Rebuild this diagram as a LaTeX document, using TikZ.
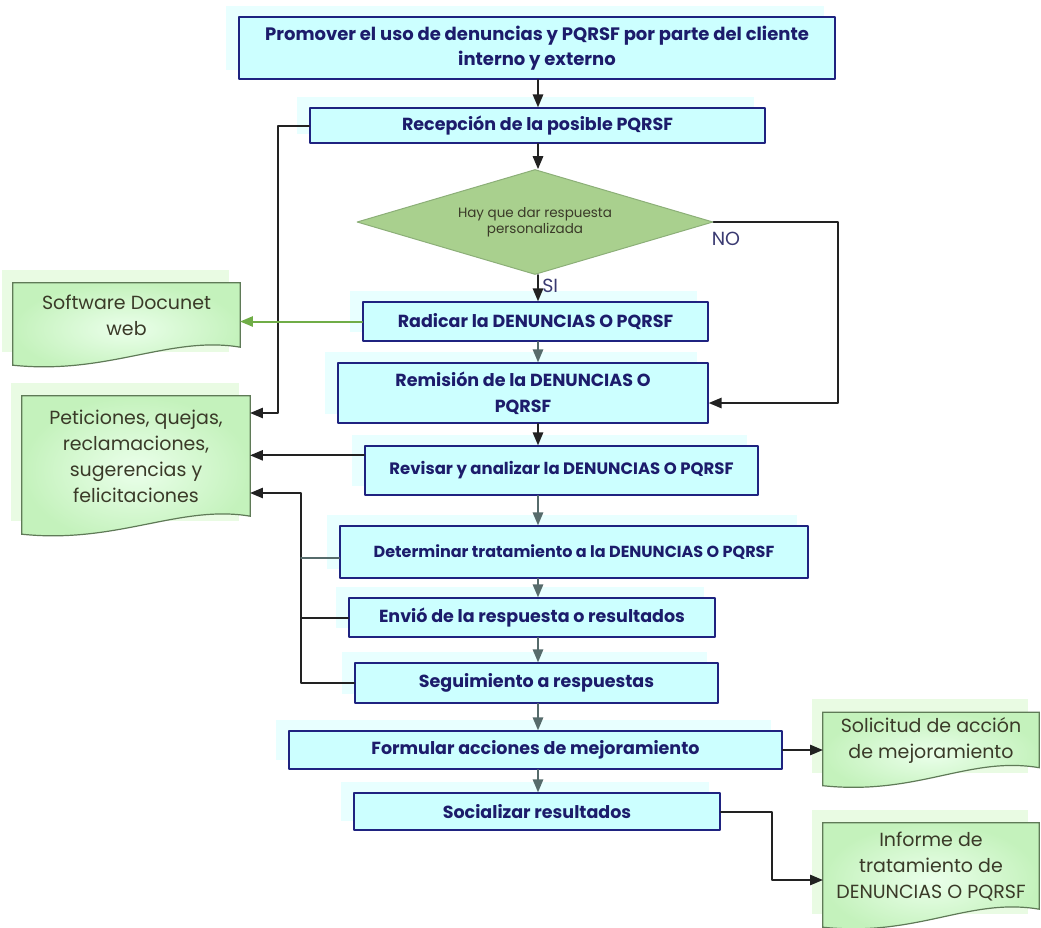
\documentclass[tikz,border=0pt]{standalone}
\usepackage{fontspec}
\setmainfont{Poppins}
\usetikzlibrary{arrows,shapes.geometric,calc,backgrounds}
\definecolor{azul}{HTML}{1F2380}
\definecolor{textoazul}{HTML}{1C1C6B}
\definecolor{celeste}{HTML}{CCFFFF}
\definecolor{celestesombra}{HTML}{E8FFFF}
\definecolor{verdedoc}{HTML}{C4F2BC}
\definecolor{verdesombra}{HTML}{E9FBE3}
\definecolor{bordedoc}{HTML}{5F7A57}
\definecolor{textodoc}{HTML}{3A3A28}
\definecolor{rombo}{HTML}{A9D08E}
\definecolor{bordrombo}{HTML}{8CAF78}
\definecolor{verdeflecha}{HTML}{70AD47}
\definecolor{gris}{HTML}{566B6B}
\definecolor{linea}{HTML}{222222}

\begin{document}
\begin{tikzpicture}[line cap=round,line join=round,>=triangle 45,x=1pt,y=-1pt,
	caja/.style={draw=azul,line width=1.6pt,fill=celeste,text=textoazul,align=center,inner sep=0pt,
		font=\bfseries\fontsize{17.5}{26}\selectfont},
	docu/.style={text=textodoc,align=center,inner sep=0pt,font=\fontsize{19}{26}\selectfont},
	papel/.style={draw=bordedoc,line width=1.2pt,inner color=green!8,outer color=verdedoc},
	flecha/.style={->,draw=linea,line width=2pt},
	flechagris/.style={->,draw=gris,line width=2pt},
	etiq/.style={text=textoazul!70!gray,font=\fontsize{19}{20}\selectfont}]
			\useasboundingbox (0,0) rectangle (1041,927);
			\coordinate (eje) at (538,0);
			%Cajas del proceso
			\node[caja,minimum width=596pt,minimum height=62pt,font=\bfseries\fontsize{18}{25}\selectfont] (prom) at (537,48)
				{Promover el uso de denuncias y PQRSF por parte del cliente\\interno y externo};
			\node[caja,minimum width=455pt,minimum height=35pt] (recep) at (537.5,125.5) {Recepción de la posible PQRSF};
			\node[shape=diamond,aspect=3.4,draw=bordrombo,fill=rombo,line width=1pt,minimum width=356pt,minimum height=105pt,
				inner sep=0pt,text=textodoc,align=center,font=\fontsize{13.5}{16}\selectfont] (dec) at (535,222)
				{Hay que dar respuesta\\personalizada};
			\node[caja,minimum width=345pt,minimum height=39pt] (radic) at (535.5,321.5) {Radicar la DENUNCIAS O PQRSF};
			\node[caja,minimum width=370pt,minimum height=60pt] (remis) at (523,393) {Remisión de la DENUNCIAS O\\PQRSF};
			\node[caja,minimum width=393pt,minimum height=49pt,font=\bfseries\fontsize{16.5}{20}\selectfont] (revis) at (561.5,470.5)
				{Revisar y analizar la DENUNCIAS O PQRSF};
			\node[caja,minimum width=468pt,minimum height=52pt,font=\bfseries\fontsize{16}{20}\selectfont] (deter) at (574,552)
				{Determinar tratamiento a la DENUNCIAS O PQRSF};
			\node[caja,minimum width=366pt,minimum height=39pt] (envio) at (532,617.5) {Envió de la respuesta o resultados};
			\node[caja,minimum width=363pt,minimum height=40pt] (segui) at (536.5,683) {Seguimiento a respuestas};
			\node[caja,minimum width=493pt,minimum height=38pt] (formu) at (535.5,750) {Formular acciones de mejoramiento};
			\node[caja,minimum width=366pt,minimum height=37pt] (socia) at (537,811.5) {Socializar resultados};
			%Documentos
			\node[docu,minimum width=227pt,minimum height=64pt] (soft) at (126.5,315) {Software Docunet\\web};
			\node[docu,minimum width=228pt,minimum height=120pt] (petic) at (136,456)
				{Peticiones, quejas,\\reclamaciones,\\sugerencias y\\felicitaciones};
			\node[docu,minimum width=216pt,minimum height=55pt] (solic) at (931,740) {Solicitud de acción\\de mejoramiento};
			\node[docu,minimum width=216pt,minimum height=86pt] (infor) at (931,866)
				{Informe de\\tratamiento de\\DENUNCIAS O PQRSF};
			%sombras y hojas
			\begin{scope}[on background layer]
				\foreach \hoja in {soft,petic,solic,infor}{
					\fill[verdesombra] ($(\hoja.north west)+(-11,-13)$) rectangle ($(\hoja.south east)+(-11,5)$);
					\draw[papel] (\hoja.south west) -- (\hoja.north west) -- (\hoja.north east) -- (\hoja.south east)
						.. controls ($(\hoja.south east)+(-70,-12)$) and ($(\hoja.south west)+(95,28)$) .. ($(\hoja.south west)+(0,18)$) -- cycle;
				}
				\foreach \paso in {prom,recep,radic,remis,revis,deter,envio,segui,formu,socia}
					\fill[celestesombra] ($(\paso.north west)+(-12,-10)$) rectangle ($(\paso.south east)+(-12,-10)$);
			\end{scope}
			%Flujo principal
			\draw[flecha] (eje |- prom.south) -- (eje |- recep.north);
			\draw[flecha] (eje |- recep.south) -- (eje |- dec.north);
			\draw[flecha] (eje |- dec.south) -- (eje |- radic.north) node[etiq,pos=0.4,right=0pt] (si) {SI};
			\draw[flechagris] (eje |- radic.south) -- (eje |- remis.north);
			\draw[flecha] (eje |- remis.south) -- (eje |- revis.north);
			\draw[flechagris] (eje |- revis.south) -- (eje |- deter.north);
			\draw[flechagris] (eje |- deter.south) -- (eje |- envio.north);
			\draw[flechagris] (eje |- envio.south) -- (eje |- segui.north);
			\draw[flechagris] (eje |- segui.south) -- (eje |- formu.north);
			\draw[flechagris] (eje |- formu.south) -- (eje |- socia.north);
			%Rama NO
			\coordinate (bno) at (838,403);
			\draw[flecha] (dec.east) -| (bno) -- (bno -| remis.east);
			\node[etiq] (no) at (726,239) {NO};
			%Salidas a documentos
			\coordinate (b1) at (278,413);
			\draw[flecha] (recep.west) -| (b1) -- (b1 -| petic.east);
			\draw[->,draw=verdeflecha,line width=2pt] (radic.west) -- (radic.west -| soft.east);
			\coordinate (b2) at ($(revis.north west)!0.2!(revis.south west)$);
			\draw[flecha] (b2) -- (b2 -| petic.east);
			\coordinate (bf) at (301,493);
			\draw[flecha] (segui.west) -| (bf) -- (bf -| petic.east);
			\draw[line width=2pt,draw=linea] (envio.west) -- (envio.west -| bf);
			\draw[line width=2pt,draw=gris] ($(deter.west)+(0,6)$) -- ($(deter.west -| bf)+(0,6)$);
			\draw[flecha] (formu.east) -- (formu.east -| solic.west);
			\coordinate (bs) at (772,880);
			\draw[flecha] (socia.east) -| (bs) -- (bs -| infor.west);
\end{tikzpicture}
\end{document}
